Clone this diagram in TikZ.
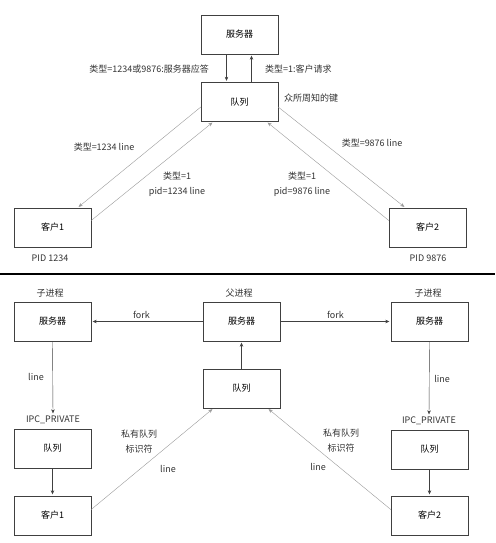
\documentclass[tikz,border=0pt]{standalone}
\usepackage{fontspec}
\setmainfont{Noto Sans CJK SC}
\usepackage{tikz}
\usetikzlibrary{arrows.meta}

\begin{document}
\begin{tikzpicture}[x=1pt, y=-1pt,
		box/.style={draw=black!75, minimum width=77pt, minimum height=39pt, inner sep=0pt},
		lbl/.style={inner sep=1pt, align=center, text=black!80},
		dark/.style={draw=black!75, -{Stealth[length=4pt,width=3.5pt]}, shorten >=1.5pt},
		light/.style={draw=black!40, -{Stealth[length=4pt,width=3.5pt]}, shorten >=1.5pt},
		every node/.style={font=\fontsize{9}{15}\selectfont}]
		\useasboundingbox (0, 0) rectangle (495, 543);
		%%
		\node[box] (srv) at (239.5, 34.5) {服务器};
		\node[box] (q) at (239.5, 102) {队列};
		\node[box] (c1) at (52.5, 227.5) {客户1};
		\node[box] (c2) at (427.5, 227.5) {客户2};
		%%
		\draw[dark] ([xshift=-13pt]srv.south) -- ([xshift=-13pt]q.north);
		\draw[dark] ([xshift=12pt]q.north) -- ([xshift=12pt]srv.south);
		\draw[light] ([yshift=-5pt]q.west) -- ([xshift=25pt]c1.north);
		\draw[light] ([yshift=7pt]c1.east) -- ([xshift=-26pt]q.south);
		\draw[light] ([yshift=-5pt]q.east) -- ([xshift=-22pt]c2.north);
		\draw[light] ([yshift=7pt]c2.west) -- ([xshift=27pt]q.south);
		%%
		\node[lbl, anchor=east] (t1) at (210, 69) {类型=1234或9876:服务器应答};
		\node[lbl, anchor=west] (t2) at (264, 69) {类型=1:客户请求};
		\node[lbl, anchor=west] (t3) at (283, 98) {众所周知的键};
		\node[lbl] (t4) at (104, 147) {类型=1234 line};
		\node[lbl] (t5) at (177, 184.5) {类型=1\\pid=1234 line};
		\node[lbl] (t6) at (302, 184.5) {类型=1\\pid=9876 line};
		\node[lbl] (t7) at (372, 143) {类型=9876 line};
		\node[lbl] (p1) at (50, 258) {PID 1234};
		\node[lbl] (p2) at (428, 258) {PID 9876};
		%%
		\draw[line width=1.2pt] (0, 274) -- (495, 274);
		%%
		\node[box] (ls) at (52.5, 321.5) {服务器};
		\node[box] (ms) at (241.5, 321.5) {服务器};
		\node[box] (rs) at (429.5, 321.5) {服务器};
		\node[box] (mq) at (241.5, 388.5) {队列};
		\node[box] (lq) at (52.5, 448.5) {队列};
		\node[box] (rq) at (429.5, 449.5) {队列};
		\node[box] (lc) at (52.5, 515.5) {客户1};
		\node[box] (rc) at (429.5, 515.5) {客户2};
		%%
		\node[lbl] (h1) at (50, 293) {子进程};
		\node[lbl] (h2) at (239, 293) {父进程};
		\node[lbl] (h3) at (428, 293) {子进程};
		\node[lbl] (lipc) at (53, 420) {IPC\_PRIVATE};
		\node[lbl] (ripc) at (429, 421) {IPC\_PRIVATE};
		%%
		\draw[dark] (ms.west) -- (ls.east) node[lbl, pos=0.55, above=2pt] (f1) {fork};
		\draw[dark] (ms.east) -- (rs.west) node[lbl, pos=0.5, above=2pt] (f2) {fork};
		\draw[dark] (mq.north) -- (ms.south);
		\draw[dark] (ls.south) -- (lipc.north);
		\draw[dark] (rs.south) -- (ripc.north);
		\draw[dark] (lq.south) -- (lc.north);
		\draw[dark] (rq.south) -- (rc.north);
		\draw[light] ([yshift=6pt]lc.east) -- ([xshift=-28pt]mq.south);
		\draw[light] ([yshift=6pt]rc.west) -- ([xshift=26pt]mq.south);
		%%
		\node[lbl] (l1) at (36, 377) {line};
		\node[lbl] (l2) at (442, 379) {line};
		\node[lbl] (k1) at (139, 441.5) {私有队列\\标识符};
		\node[lbl] (k2) at (341, 440.5) {私有队列\\标识符};
		\node[lbl] (l3) at (168, 469) {line};
		\node[lbl] (l4) at (318, 467) {line};
	\end{tikzpicture}
\end{document}
